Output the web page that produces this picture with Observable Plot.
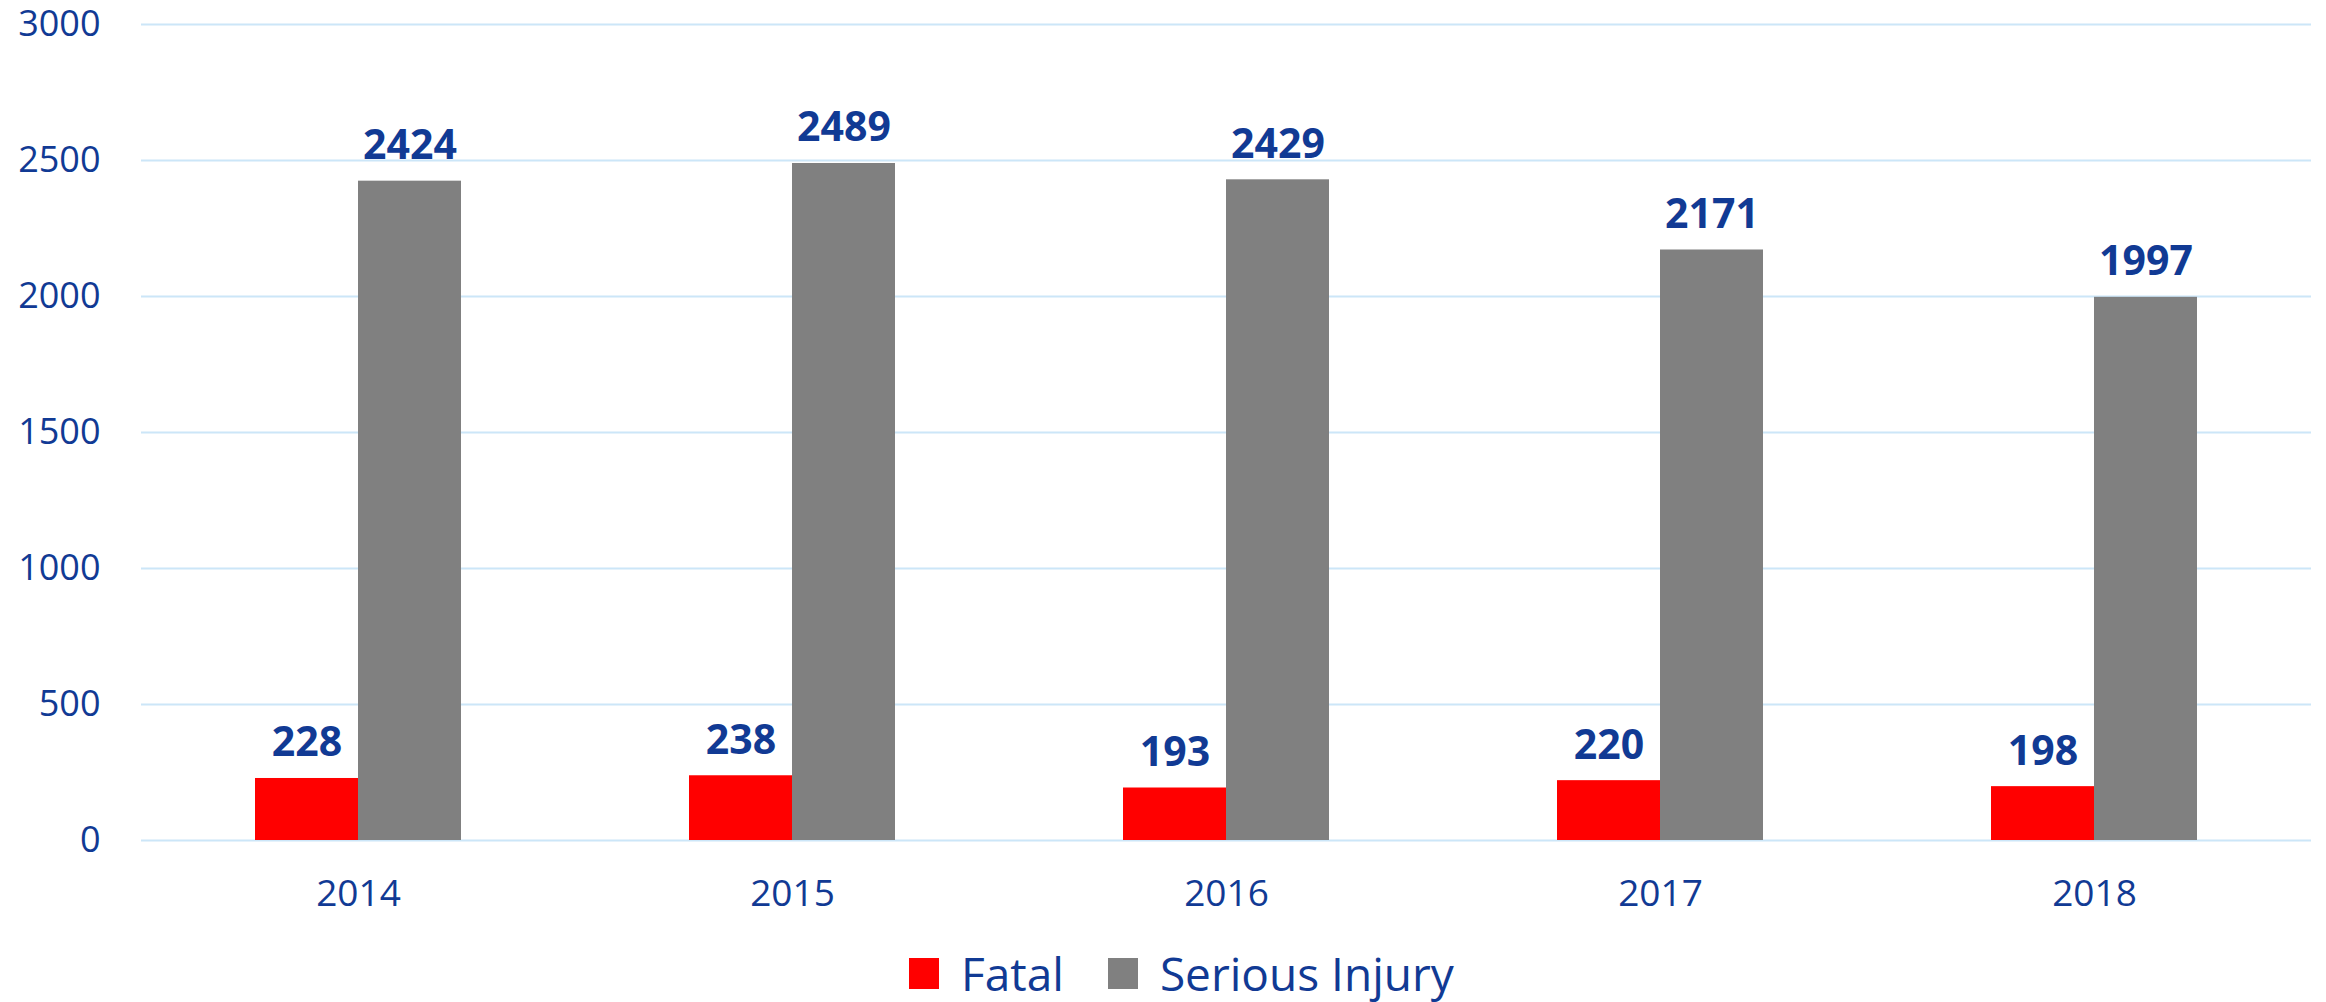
<!DOCTYPE html>
<html>
<head>
<meta charset="utf-8">
<script src="https://cdn.jsdelivr.net/npm/d3@7"></script>
<script src="https://cdn.jsdelivr.net/npm/@observablehq/plot@0.6"></script>
<style>
  html, body { margin: 0; padding: 0; background: #fff; }
  body { width: 2326px; height: 1002px; overflow: hidden; font-family: "Open Sans", sans-serif; }
  #legend { display: flex; align-items: center; margin-left: 909px; height: 56px; line-height: 56px; color: #113A94; font-size: 46px; }
  #legend .item { display: flex; align-items: center; margin-right: 44px; }
  #legend .sw { width: 30px; height: 31px; margin-right: 22px; }
</style>
</head>
<body>
<div id="chart"></div>
<div id="legend"></div>
<script>
const years = ["2014", "2015", "2016", "2017", "2018"];
const seriesNames = ["Fatal", "Serious Injury"];
const fatal = [228, 238, 193, 220, 198];
const serious = [2424, 2489, 2429, 2171, 1997];
const yTicks = [0, 500, 1000, 1500, 2000, 2500, 3000];
const colors = ["#FF0000", "#808080"];
const textColor = "#113A94";

const data = [];
years.forEach((yr, i) => {
  data.push({year: yr, series: seriesNames[0], value: fatal[i]});
  data.push({year: yr, series: seriesNames[1], value: serious[i]});
});

const plot = Plot.plot({
  width: 2326,
  height: 945,
  marginTop: 24,
  marginBottom: 105,
  marginLeft: 139,
  marginRight: 13,
  style: {fontFamily: "'Open Sans', sans-serif", background: "#fff"},
  fx: {domain: years, padding: 0},
  x: {domain: seriesNames, paddingInner: 0, paddingOuter: 1.09, axis: null},
  y: {domain: [0, 3000]},
  color: {domain: seriesNames, range: colors},
  marks: [
    Plot.gridY(yTicks, {stroke: "#CCE6F8", strokeOpacity: 1, strokeWidth: 2}),
    Plot.axisY(yTicks, {tickSize: 0, tickPadding: 41, fontSize: 36, fill: textColor, label: null, tickFormat: d => String(d)}),
    Plot.axisFx({anchor: "bottom", tickSize: 0, tickPadding: 39, fontSize: 37, fill: textColor, label: null}),
    Plot.barY(data, {fx: "year", x: "series", y: "value", fill: "series"}),
    Plot.text(data, {fx: "year", x: "series", y: "value", text: d => String(d.value),
      lineAnchor: "bottom", dy: -22, fontSize: 41, fontWeight: "bold", fill: textColor})
  ]
});
document.getElementById("chart").appendChild(plot);

const legend = document.getElementById("legend");
seriesNames.forEach((s, i) => {
  const it = document.createElement("div");
  it.className = "item";
  const sw = document.createElement("div");
  sw.className = "sw";
  sw.style.background = colors[i];
  const lb = document.createElement("span");
  lb.textContent = s;
  it.appendChild(sw);
  it.appendChild(lb);
  legend.appendChild(it);
});
</script>
</body>
</html>
